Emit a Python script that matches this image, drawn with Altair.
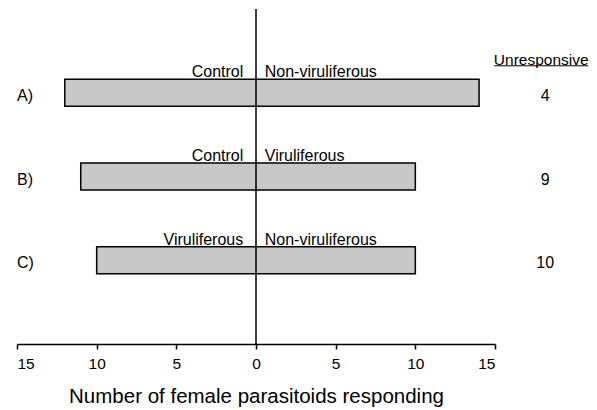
import altair as alt
import pandas as pd

rows = ["A)", "B)", "C)"]
row_pos = [3, 2, 1]
left_counts = [12, 11, 10]
right_counts = [14, 10, 10]
left_labels = ["Control", "Control", "Viruliferous"]
right_labels = ["Non-viruliferous", "Viruliferous", "Non-viruliferous"]
unresponsive = [4, 9, 10]
tick_values = [-15, -10, -5, 0, 5, 10, 15]

FONT = "Liberation Sans"
HALF = 0.162

df = pd.DataFrame({
    "row": rows,
    "pos": row_pos,
    "left": [-v for v in left_counts],
    "right": right_counts,
    "llab": left_labels,
    "rlab": right_labels,
    "unr": [str(v) for v in unresponsive],
})
df["y0"] = df["pos"] - HALF
df["y1"] = df["pos"] + HALF
df["lx"] = -0.8
df["rx"] = 0.55
df["rowx"] = -15
df["unx"] = 18.15

xs = alt.Scale(domain=[-15, 15], nice=False, zero=False)
ys = alt.Scale(domain=[0, 4], nice=False, zero=False)

base = alt.Chart(df)

bars = base.mark_bar(fill="#c8c8c8", stroke="black", strokeWidth=1.5, clip=False).encode(
    x=alt.X("left:Q", scale=xs, axis=alt.Axis(
        values=tick_values, labelExpr="abs(datum.value)", title="Number of female parasitoids responding",
        grid=False, domainColor="black", tickColor="black", tickSize=5, domainWidth=1.5, tickWidth=1.5,
        labelFontSize=15.5, titleFontSize=20.5, labelColor="black", titleColor="black",
        labelFont=FONT, titleFont=FONT, titleFontWeight="normal", labelPadding=7, titlePadding=15)),
    x2="right:Q",
    y=alt.Y("y0:Q", scale=ys, axis=None),
    y2="y1:Q",
)

vline_df = pd.DataFrame({"x": [0], "y0": [0], "y1": [4]})
vline = alt.Chart(vline_df).mark_rule(color="black", strokeWidth=1.5).encode(
    x=alt.X("x:Q", scale=xs), y=alt.Y("y0:Q", scale=ys), y2="y1:Q")

ltext = base.mark_text(align="right", baseline="bottom", font=FONT, fontSize=16, color="black", dy=1).encode(
    x=alt.X("lx:Q", scale=xs), y=alt.Y("y1:Q", scale=ys), text="llab:N")
rtext = base.mark_text(align="left", baseline="bottom", font=FONT, fontSize=16, color="black", dy=1).encode(
    x=alt.X("rx:Q", scale=xs), y=alt.Y("y1:Q", scale=ys), text="rlab:N")
rowtext = base.mark_text(align="left", baseline="middle", font=FONT, fontSize=16, color="black", dy=3).encode(
    x=alt.X("rowx:Q", scale=xs), y=alt.Y("pos:Q", scale=ys), text="row:N")
untext = base.mark_text(align="center", baseline="middle", font=FONT, fontSize=16, color="black", dy=3).encode(
    x=alt.X("unx:Q", scale=xs), y=alt.Y("pos:Q", scale=ys), text="unr:N")

head_df = pd.DataFrame({"t": ["Unresponsive"], "x": [17.9], "y": [3.39], "ux0": [14.95], "ux1": [20.85], "uy": [3.322]})
head = alt.Chart(head_df).mark_text(align="center", baseline="middle", font=FONT, fontSize=15.5, color="black").encode(
    x=alt.X("x:Q", scale=xs), y=alt.Y("y:Q", scale=ys), text="t:N")
uline = alt.Chart(head_df).mark_rule(color="black", strokeWidth=1).encode(
    x=alt.X("ux0:Q", scale=xs), x2="ux1:Q", y=alt.Y("uy:Q", scale=ys))

chart = alt.layer(bars, vline, ltext, rtext, rowtext, untext, head, uline).properties(
    width=478, height=335,
    autosize=alt.AutoSizeParams(type="none"),
    padding={"left": 9, "top": 1, "right": 94, "bottom": 64},
    background="white",
).configure_view(strokeWidth=0, stroke="transparent")

chart.save("out.html", embed_options={"renderer": "svg", "actions": False})
